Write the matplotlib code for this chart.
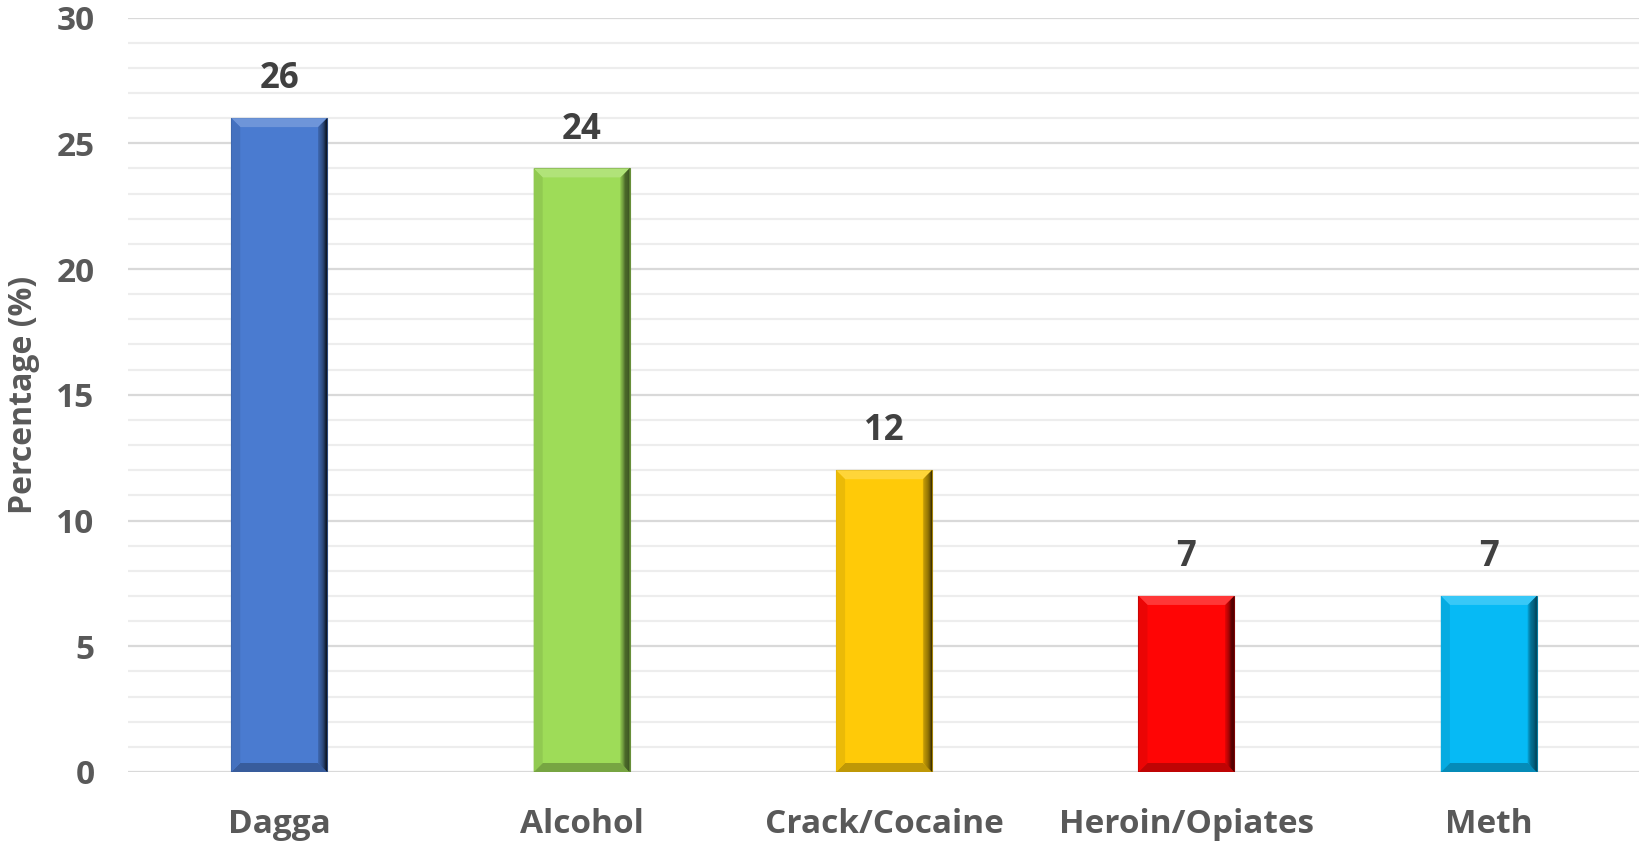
import numpy as np
import matplotlib.pyplot as plt
from matplotlib.patches import Polygon
from matplotlib.colors import to_rgb

plt.rcParams['font.family'] = ['Open Sans', 'DejaVu Sans']

categories = ['Dagga', 'Alcohol', 'Crack/Cocaine', 'Heroin/Opiates', 'Meth']
values = [26, 24, 12, 7, 7]
colors = ['#4A7BD0', '#9EDC58', '#FFCA08', '#FF0505', '#06BAF5']
yticks = [0, 5, 10, 15, 20, 25, 30]

fig = plt.figure(figsize=(16.4, 8.44), dpi=100)
ax = fig.add_axes([128/1640, 1 - 772/844, (1640-128)/1640, (772-17.5)/844])

x = np.arange(len(categories))
bw = 0.317
ax.set_xlim(-0.5, 4.5)
ax.set_ylim(0, 30)

# grid: minor every 1, major every 5
for v in range(0, 31):
    c = '#D9D9D9' if v % 5 == 0 else '#EDEDED'
    ax.axhline(v, color=c, lw=1.6, zorder=0)


def mix(c, other, t):
    c = np.array(to_rgb(c)); o = np.array(to_rgb(other))
    return tuple(c * (1 - t) + o * t)


# bevel sizes in data units (about 8-9 px)
bx = 9 / 302.4
by = 9 / 25.17
for xi, v, col in zip(x, values, colors):
    l, r = xi - bw / 2, xi + bw / 2
    ax.add_patch(Polygon([(l, 0), (r, 0), (r, v), (l, v)], closed=True,
                         fc=col, ec=mix(col, 'black', 0.35), lw=0.8, zorder=2))
    # top bevel (light)
    ax.add_patch(Polygon([(l, v), (r, v), (r - bx, v - by), (l + bx, v - by)],
                         fc=mix(col, 'white', 0.2), ec='none', zorder=3))
    # bottom bevel (dark)
    ax.add_patch(Polygon([(l, 0), (r, 0), (r - bx, by), (l + bx, by)],
                         fc=mix(col, 'black', 0.25), ec='none', zorder=3))
    # left bevel (slightly dark)
    ax.add_patch(Polygon([(l, 0), (l + bx, by), (l + bx, v - by), (l, v)],
                         fc=mix(col, 'black', 0.08), ec='none', zorder=3))
    # right bevel: gradient towards dark
    n = 8
    for k in range(n):
        x0 = r - bx + bx * k / n
        x1 = r - bx + bx * (k + 1) / n
        f0 = k / n; f1 = (k + 1) / n
        ax.add_patch(Polygon([(x0, by * (1 - f0)), (x1, by * (1 - f1)),
                              (x1, v - by * (1 - f1)), (x0, v - by * (1 - f0))],
                             fc=mix(col, 'black', 0.15 + 0.7 * (k + 0.5) / n),
                             ec='none', zorder=3))
    ax.annotate(str(v), (xi, v), xytext=(0, 15), textcoords='offset points',
                ha='center', va='bottom', fontsize=25, fontweight='bold',
                color='#404040')

ax.set_yticks(yticks)
ax.set_xticks(x)
ax.set_xticklabels(categories)
ax.tick_params(axis='both', length=0, labelsize=24, labelcolor='#595959')
ax.tick_params(axis='x', pad=26)
ax.tick_params(axis='y', pad=24)
for lab in ax.get_xticklabels() + ax.get_yticklabels():
    lab.set_fontweight('bold')
for s in ax.spines.values():
    s.set_visible(False)
ax.set_ylabel('Percentage (%)', fontsize=23, fontweight='bold', color='#595959')
ax.yaxis.set_label_coords(-88/1512, 0.5)

fig.savefig('out.png', dpi=100)
